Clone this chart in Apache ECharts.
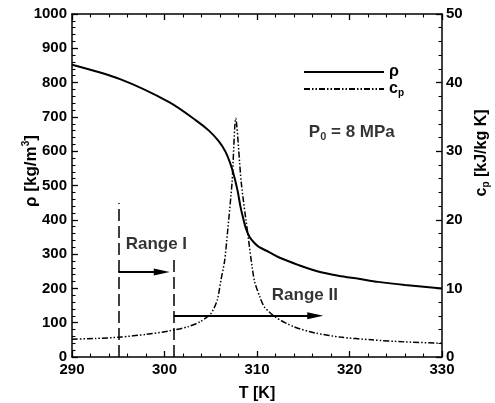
<!DOCTYPE html>
<html><head><meta charset="utf-8">
<script src="https://cdn.jsdelivr.net/npm/echarts@6/dist/echarts.min.js"></script>
<style>html,body{margin:0;padding:0;background:#fff}#c{width:495px;height:403px}</style>
</head><body><div id="c"></div>
<script>
// Density (left axis) and specific heat (right axis) vs temperature
const T_rho = [290,295.2,300.5,303.4,304.8,305.9,306.6,307.1,307.5,307.9,308.2,308.5,308.8,309.2,309.7,310.2,311.3,312.4,314.5,316.5,318.8,321,323.1,326,330];
const rho   = [852,810,743,690,660,628,598,565,530,485,440,405,375,350,333,321,306,290,268,250,237,228,219,210,200];
const T_cp  = [290,292.5,295.2,298,300.5,302.5,303.8,305,305.7,306.1,306.5,306.8,307.3,307.7,308.3,309.0,309.7,310.3,310.8,312,314,316.3,319,322.4,326,330];
const cp    = [2.6,2.7,2.9,3.3,3.8,4.4,5.1,6.3,8.3,11.2,14,18,25.4,34.8,25.4,18,11.2,8.8,7.3,5.8,4.4,3.5,2.9,2.5,2.2,2.0];
// Annotation values (data units)
const rangeI_T = [295, 301];
const rangeI_top = [449, 289];
const rangeI_arrow = {from: 295, to: 299.7, rho: 248};
const rangeII_arrow = {from: 301, to: 316.3, rho: 120};
const labelsPos = {rangeI: [295.8, 329], rangeII: [311.6, 181], p0: [315.6, 656]};
const xTicks = {min: 290, max: 330, interval: 10};
const yLeft = {min: 0, max: 1000, interval: 100};
const yRight = {min: 0, max: 50, interval: 10};

const FONT = '"Liberation Sans", Arial, sans-serif';
const chart = echarts.init(document.getElementById('c'));
const zip = (a, b) => a.map((v, i) => [v, b[i]]);
const arrowPath = 'path://M5,0 L10,20 L0,20 Z';
function axis(extra, showLabel, margin) {
  return Object.assign({
    type: 'value',
    axisLine: {show: true, onZero: false, lineStyle: {color: '#000', width: 1.5}},
    axisTick: {show: true, inside: true, length: 6, lineStyle: {color: '#000', width: 1.3}},
    minorTick: {show: true, splitNumber: 5, length: 3.5, lineStyle: {color: '#000', width: 1.1}},
    splitLine: {show: false},
    minorSplitLine: {show: false},
    axisLabel: {show: showLabel, margin: margin, color: '#000', fontFamily: FONT, fontWeight: 'bold', fontSize: 15,
      formatter: v => String(v)}
  }, extra);
}
const richSub = (size, sub, pad) => ({
  a: {fill: '#000', color: '#000', fontFamily: FONT, fontWeight: 'bold', fontSize: size},
  s: {fill: '#000', color: '#000', fontFamily: FONT, fontWeight: 'bold', fontSize: sub, padding: pad}
});

chart.setOption({
  animation: false,
  backgroundColor: '#fff',
  grid: {left: 72, right: 53, top: 14, bottom: 46, outerBoundsMode: 'none', containLabel: false},
  legend: {
    orient: 'vertical', left: 303, top: 64, padding: 0, itemWidth: 80, itemHeight: 14, itemGap: 1,
    data: ['rho', 'cp'],
    itemStyle: {opacity: 0},
    formatter: n => n === 'rho' ? '{a|ρ}' : '{a|c}{s|p}',
    textStyle: {color: '#000', fontFamily: FONT, fontWeight: 'bold', fontSize: 16, rich: richSub(16, 10, [8, 0, 0, 0])}
  },
  graphic: [
    {type: 'text', x: 31, y: 171, rotation: Math.PI / 2, silent: true,
      style: {text: '{a|ρ [kg/m}{s|3}{a|]}', align: 'center', verticalAlign: 'middle',
        rich: richSub(17, 10, [0, 0, 9, 0])}},
    {type: 'text', x: 482, y: 153, rotation: Math.PI / 2, silent: true,
      style: {text: '{a|c}{s|p}{a| [kJ/kg K]}', align: 'center', verticalAlign: 'middle',
        rich: richSub(16, 10, [9, 0, 0, 0])}}
  ],
  xAxis: [
    axis({position: 'bottom', min: xTicks.min, max: xTicks.max, interval: xTicks.interval,
      name: 'T [K]', nameLocation: 'middle', nameGap: 29, nameMoveOverlap: false,
      nameTextStyle: {color: '#000', fontFamily: FONT, fontWeight: 'bold', fontSize: 16}}, true, 5),
    axis({position: 'top', min: xTicks.min, max: xTicks.max, interval: xTicks.interval}, false, 5)
  ],
  yAxis: [
    axis({position: 'left', min: yLeft.min, max: yLeft.max, interval: yLeft.interval}, true, 5),
    axis({position: 'right', min: yRight.min, max: yRight.max, interval: yRight.interval}, true, 4)
  ],
  series: [
    {
      name: 'rho', type: 'line', xAxisIndex: 0, yAxisIndex: 0, data: zip(T_rho, rho),
      smooth: 0.3, symbol: 'none', lineStyle: {color: '#000', width: 2},
      itemStyle: {color: '#000'},
      markLine: {
        silent: true, symbol: ['none', 'none'], label: {show: false},
        lineStyle: {color: '#000', width: 1.5, type: [12, 5]},
        data: [
          [{coord: [rangeI_T[0], 0]}, {coord: [rangeI_T[0], rangeI_top[0]]}],
          [{coord: [rangeI_T[1], 0]}, {coord: [rangeI_T[1], rangeI_top[1]]}],
          [{coord: [rangeI_arrow.from, rangeI_arrow.rho], lineStyle: {type: 'solid', width: 2}},
           {coord: [rangeI_arrow.to, rangeI_arrow.rho], symbol: arrowPath, symbolSize: [7, 16]}],
          [{coord: [rangeII_arrow.from, rangeII_arrow.rho], lineStyle: {type: 'solid', width: 2}},
           {coord: [rangeII_arrow.to, rangeII_arrow.rho], symbol: arrowPath, symbolSize: [7, 16]}]
        ]
      }
    },
    {
      name: 'cp', type: 'line', xAxisIndex: 0, yAxisIndex: 1, data: zip(T_cp, cp),
      smooth: 0.25, symbol: 'none',
      lineStyle: {color: '#000', width: 1.5, type: [6, 2, 1.5, 2, 1.5, 2]},
      itemStyle: {color: '#000'}
    },
    {
      name: 'labels', type: 'scatter', xAxisIndex: 0, yAxisIndex: 0, symbolSize: 0, silent: true,
      data: [
        {value: labelsPos.rangeI, label: {formatter: '{a|Range I}'}},
        {value: labelsPos.rangeII, label: {formatter: '{a|Range II}'}},
        {value: labelsPos.p0, label: {formatter: '{a|P}{s|0}{a| = 8 MPa}'}}
      ],
      label: {show: true, position: 'right', distance: 0, color: '#000', fontFamily: FONT, fontWeight: 'bold', fontSize: 17,
        rich: richSub(17, 11, [9, 0, 0, 0])}
    }
  ]
});
</script></body></html>
